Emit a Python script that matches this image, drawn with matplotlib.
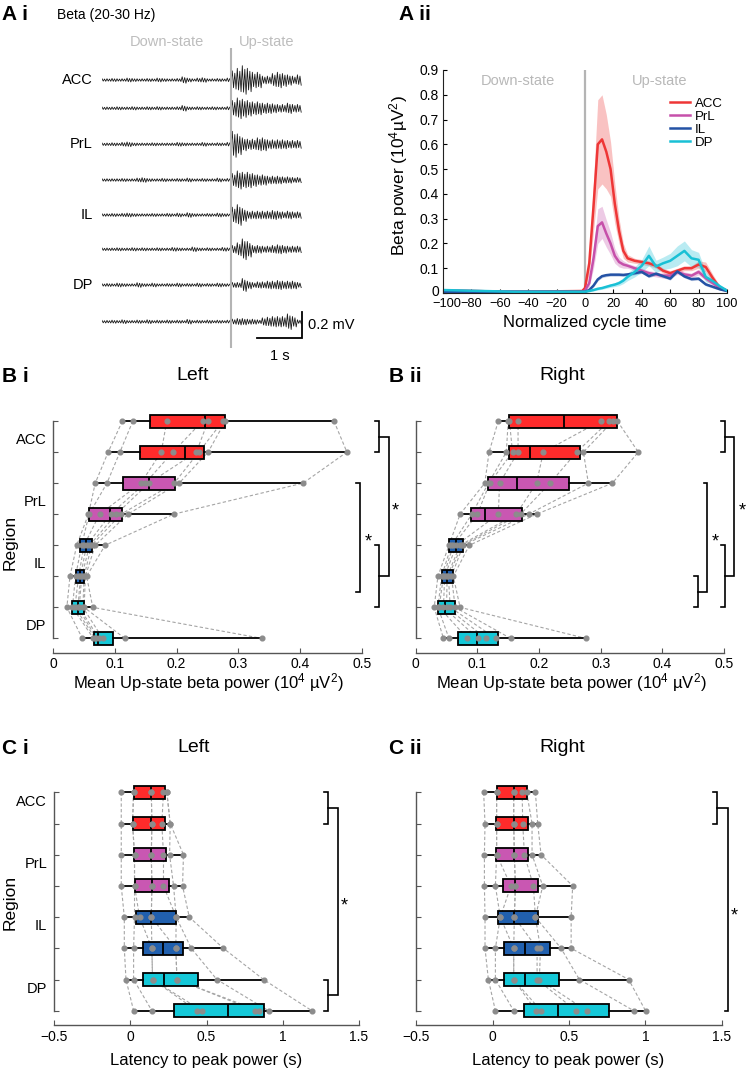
import numpy as np
import matplotlib.pyplot as plt
from matplotlib.transforms import blended_transform_factory, ScaledTranslation
from matplotlib.lines import Line2D

plt.rcParams['font.family'] = ['Liberation Sans', 'DejaVu Sans']
plt.rcParams['mathtext.fontset'] = 'custom'
plt.rcParams['mathtext.rm'] = 'Liberation Sans'
plt.rcParams['mathtext.it'] = 'Liberation Sans:italic'

# ---------------- data ----------------
# A i: envelope of beta-filtered traces (0.01 mV units), 40 bins of ~0.11 s
trace_labels = ['ACC', '', 'PrL', '', 'IL', '', 'DP', '']
env_acc1 = [1, 1, 1.2, 1, 1, 1.5, 1.2, 1, 1, 1.2, 1, 1.5, 1.2, 1, 1, 1.2, 2.5, 1.5, 1, 1.5, 1.8, 1, 1, 1.2, 1, 1.5,
            7, 9, 11, 9, 6, 6, 3, 3, 5, 6, 5, 4, 3, 4]
env_acc2 = [1, 1, 1, 1.2, 1, 1, 1.3, 1, 1, 1.2, 1, 1.3, 1, 1, 1, 1.2, 2.2, 1.2, 1, 1.2, 1, 1, 1.2, 1, 1, 1.3,
            6, 8, 7, 6, 5, 5, 4, 4, 3.5, 3, 3, 4, 3, 3]
env_prl1 = [1, 1, 1.2, 1, 1.5, 1.8, 1.2, 1, 1, 1, 1.2, 1, 1, 1, 1, 1.5, 1.2, 1, 1, 1, 1.5, 1, 1, 1.2, 1, 1.5,
            10, 8, 5, 4, 4, 5, 5, 3.5, 3.5, 3.5, 3.5, 3, 3, 3]
env_prl2 = [1, 1, 1, 1, 1.2, 1, 1, 1.5, 1.8, 1.2, 1, 1, 1.3, 1, 1, 1.2, 1, 1.5, 1, 1, 1.2, 1, 1, 1.5, 1, 1.2,
            5, 7, 6, 6, 5, 4, 4, 3, 3, 3, 2.5, 2.5, 2, 2]
env_il1 = [1, 1, 1.2, 1, 1.3, 1.5, 1.2, 1, 1, 1, 1.2, 1, 1, 1.3, 1, 1.5, 1, 1.8, 1.2, 1, 1, 1.2, 1, 1.5, 1.2, 1,
           6, 8, 5, 3, 3, 3, 3, 3, 3.5, 3, 2.5, 3, 2.5, 2.5]
env_il2 = [1, 1, 1, 1.2, 1, 1, 1.3, 1, 1.2, 1, 1, 1.2, 1, 1, 1.5, 1.2, 1, 1, 1.8, 1.2, 1, 1.2, 1, 1, 1.5, 1.2,
           3, 5, 8, 6, 3, 3, 2.5, 2.5, 3, 3.5, 3, 2.5, 2.5, 2.5]
env_dp1 = [1, 1.2, 1, 1.5, 1.2, 1, 1, 1.8, 1.2, 1, 1.5, 1, 1, 1.2, 1, 1.5, 1, 1.2, 1, 1.5, 1, 1.2, 1, 1.5, 1.2, 1,
           2, 2, 5, 3, 2, 2.5, 2.5, 3, 3, 3.5, 3, 3, 3, 2]
env_dp2 = [1, 1, 1.2, 1, 1.5, 1, 1, 1.3, 1, 1.5, 1, 1.2, 1, 1.3, 1, 1.2, 1, 1.8, 1, 1.2, 1, 1.3, 1, 1.2, 1, 1.2,
           2, 2.5, 2.5, 2, 2, 1.5, 3, 3.5, 4, 4, 4, 6, 4, 1.5]
trace_envs = [env_acc1, env_acc2, env_prl1, env_prl2, env_il1, env_il2, env_dp1, env_dp2]

# A ii: mean beta power over normalized cycle time
cycle_x = [-100, -50, -2, 0, 3, 6, 9, 12, 15, 18, 21, 24, 27, 30, 35, 40, 45, 50, 55, 60, 65, 70, 75, 80, 85, 90, 95, 100]
acc_mean = [0.01, 0.005, 0.008, 0.02, 0.12, 0.35, 0.6, 0.62, 0.57, 0.5, 0.36, 0.25, 0.17, 0.14, 0.13, 0.125, 0.12,
            0.11, 0.09, 0.08, 0.09, 0.1, 0.1, 0.115, 0.105, 0.06, 0.02, 0.01]
acc_sem = [0.005, 0.003, 0.003, 0.005, 0.04, 0.1, 0.18, 0.18, 0.15, 0.11, 0.08, 0.05, 0.03, 0.015, 0.01, 0.01, 0.01,
           0.01, 0.01, 0.01, 0.01, 0.01, 0.01, 0.015, 0.02, 0.015, 0.008, 0.004]
prl_mean = [0.01, 0.005, 0.005, 0.01, 0.04, 0.14, 0.27, 0.285, 0.24, 0.2, 0.15, 0.125, 0.115, 0.11, 0.1, 0.09, 0.08,
            0.075, 0.07, 0.07, 0.085, 0.075, 0.07, 0.085, 0.06, 0.04, 0.02, 0.01]
prl_sem = [0.004, 0.003, 0.003, 0.004, 0.015, 0.04, 0.07, 0.065, 0.055, 0.045, 0.03, 0.02, 0.015, 0.01, 0.01, 0.01,
           0.01, 0.01, 0.01, 0.01, 0.01, 0.01, 0.01, 0.012, 0.01, 0.01, 0.005, 0.003]
il_mean = [0.005, 0.005, 0.005, 0.005, 0.012, 0.03, 0.055, 0.068, 0.072, 0.074, 0.074, 0.074, 0.073, 0.075, 0.08,
           0.085, 0.068, 0.078, 0.068, 0.058, 0.087, 0.067, 0.056, 0.058, 0.035, 0.025, 0.015, 0.008]
il_sem = [0.002, 0.002, 0.002, 0.002, 0.004, 0.005, 0.006, 0.006, 0.006, 0.006, 0.006, 0.006, 0.006, 0.006, 0.006,
          0.006, 0.006, 0.006, 0.006, 0.006, 0.006, 0.006, 0.006, 0.006, 0.006, 0.005, 0.004, 0.003]
dp_mean = [0.012, 0.005, 0.005, 0.005, 0.008, 0.012, 0.017, 0.02, 0.025, 0.03, 0.034, 0.04, 0.05, 0.065, 0.085, 0.11,
           0.15, 0.107, 0.12, 0.13, 0.15, 0.17, 0.14, 0.134, 0.065, 0.048, 0.027, 0.01]
dp_sem = [0.003, 0.002, 0.002, 0.002, 0.003, 0.004, 0.005, 0.005, 0.006, 0.007, 0.008, 0.01, 0.012, 0.015, 0.02,
          0.025, 0.04, 0.025, 0.025, 0.03, 0.04, 0.04, 0.035, 0.03, 0.02, 0.01, 0.006, 0.004]

region_names = ['ACC', 'PrL', 'IL', 'DP']

# B i: mean up-state beta power, left hemisphere (rows top->bottom, 8 animals each)
bl_points = [[0.112, 0.129, 0.184, 0.242, 0.251, 0.275, 0.279, 0.455],
             [0.089, 0.108, 0.175, 0.194, 0.232, 0.236, 0.251, 0.476],
             [0.068, 0.087, 0.142, 0.149, 0.155, 0.196, 0.204, 0.405],
             [0.057, 0.058, 0.075, 0.093, 0.102, 0.110, 0.121, 0.195],
             [0.038, 0.046, 0.050, 0.054, 0.059, 0.062, 0.068, 0.084],
             [0.027, 0.036, 0.041, 0.044, 0.046, 0.050, 0.052, 0.054],
             [0.022, 0.031, 0.035, 0.040, 0.042, 0.048, 0.050, 0.064],
             [0.047, 0.065, 0.068, 0.070, 0.074, 0.080, 0.116, 0.338]]
bl_q1 = [0.156, 0.141, 0.113, 0.058, 0.044, 0.036, 0.030, 0.066]
bl_med = [0.246, 0.213, 0.155, 0.092, 0.0525, 0.044, 0.0395, 0.073]
bl_q3 = [0.279, 0.245, 0.197, 0.112, 0.062, 0.050, 0.049, 0.097]

# B ii: right hemisphere
br_points = [[0.134, 0.150, 0.152, 0.166, 0.300, 0.314, 0.320, 0.327],
             [0.119, 0.147, 0.157, 0.166, 0.207, 0.261, 0.272, 0.361],
             [0.112, 0.118, 0.120, 0.136, 0.196, 0.218, 0.280, 0.319],
             [0.072, 0.091, 0.100, 0.134, 0.163, 0.170, 0.183, 0.196],
             [0.054, 0.058, 0.061, 0.066, 0.072, 0.075, 0.077, 0.087],
             [0.036, 0.042, 0.045, 0.047, 0.051, 0.053, 0.058, 0.061],
             [0.030, 0.036, 0.038, 0.045, 0.050, 0.056, 0.064, 0.072],
             [0.045, 0.054, 0.084, 0.101, 0.114, 0.130, 0.154, 0.276]]
br_q1 = [0.152, 0.152, 0.118, 0.089, 0.054, 0.042, 0.036, 0.069]
br_med = [0.240, 0.186, 0.165, 0.112, 0.066, 0.051, 0.047, 0.100]
br_q3 = [0.327, 0.267, 0.249, 0.173, 0.076, 0.061, 0.064, 0.134]

# C i: latency to peak power (s), left
cl_points = [[-0.059, 0.022, 0.022, 0.138, 0.138, 0.218, 0.240, 0.240],
             [-0.059, 0.015, 0.015, 0.142, 0.142, 0.207, 0.262, 0.262],
             [-0.059, 0.028, 0.028, 0.138, 0.138, 0.218, 0.258, 0.349],
             [-0.059, 0.028, 0.028, 0.142, 0.142, 0.218, 0.284, 0.343],
             [-0.039, 0.028, 0.061, 0.138, 0.138, 0.301, 0.301, 0.387],
             [-0.039, 0.022, 0.142, 0.142, 0.299, 0.299, 0.400, 0.611],
             [-0.028, 0.022, 0.146, 0.146, 0.306, 0.306, 0.568, 0.874],
             [0.022, 0.142, 0.437, 0.470, 0.819, 0.841, 0.907, 1.191]]
cl_q1 = [0.022, 0.016, 0.022, 0.028, 0.039, 0.081, 0.083, 0.288]
cl_med = [0.138, 0.138, 0.138, 0.142, 0.138, 0.218, 0.223, 0.644]
cl_q3 = [0.229, 0.227, 0.236, 0.251, 0.301, 0.349, 0.441, 0.874]

# C ii: right
cr_points = [[-0.059, 0.026, 0.026, 0.138, 0.138, 0.193, 0.223, 0.280],
             [-0.050, 0.026, 0.026, 0.138, 0.138, 0.197, 0.258, 0.295],
             [-0.054, 0.026, 0.026, 0.142, 0.142, 0.208, 0.258, 0.317],
             [-0.054, 0.018, 0.120, 0.149, 0.149, 0.267, 0.328, 0.524],
             [-0.050, 0.050, 0.050, 0.142, 0.142, 0.280, 0.280, 0.514],
             [-0.050, 0.018, 0.138, 0.138, 0.291, 0.313, 0.448, 0.514],
             [-0.028, 0.018, 0.138, 0.138, 0.291, 0.306, 0.568, 0.891],
             [0.018, 0.138, 0.284, 0.317, 0.546, 0.616, 0.924, 1.001]]
cr_q1 = [0.026, 0.020, 0.020, 0.066, 0.033, 0.077, 0.077, 0.208]
cr_med = [0.138, 0.138, 0.142, 0.149, 0.142, 0.212, 0.212, 0.426]
cr_q3 = [0.223, 0.229, 0.232, 0.299, 0.295, 0.378, 0.437, 0.765]

# ---------------- styles ----------------
line_colors = ['#ee3636', '#c650aa', '#2452a5', '#19c0d5']
box_colors = ['#ff2b2b', '#ff2b2b', '#c957b2', '#c957b2', '#2160ae', '#2160ae', '#14c8d8', '#14c8d8']
spine_c = '#555555'

W, H = 748, 1072
fig = plt.figure(figsize=(W / 100, H / 100), dpi=100)


def px_axes(x0, y0, x1, y1):
    return fig.add_axes([x0 / W, 1 - y1 / H, (x1 - x0) / W, (y1 - y0) / H])


def ftext(x, y, s, **kw):
    fig.text(x / W, 1 - y / H, s, **kw)


def nudge(label, dx_px, dy_px):
    label.set_transform(label.get_transform() +
                        ScaledTranslation(dx_px / 100, dy_px / 100, fig.dpi_scale_trans))


# panel letters
for x, y, s in [(2, 15, 'A i'), (399, 15, 'A ii'), (2, 376, 'B i'), (389, 376, 'B ii'),
                (2, 748, 'C i'), (389, 748, 'C ii')]:
    ftext(x, y, s, fontsize=15, fontweight='bold', va='center', ha='left')

# ---------------- A i ----------------
ax = px_axes(102, 48, 302.3, 348)
px_per_mv = 130.0
ax.set_xlim(0, 200 / 45)
ax.set_ylim(-300 / px_per_mv, 0)
ax.axis('off')
trace_rows_px = [80, 108.3, 144.3, 180, 215, 249.3, 285, 321.7]
carrier = [1, -0.85, 0.75, -1]
for env, ypx, lab in zip(trace_envs, trace_rows_px, trace_labels):
    base = -(ypx - 48) / px_per_mv
    amp = np.repeat(np.array(env) * 0.01, len(carrier)) * np.tile(carrier, len(env))
    t = np.linspace(0, 4.42, amp.size)
    ax.plot(t, base + amp, color='#1a1a1a', lw=0.6)
    if lab:
        ax.text(-0.2, base, lab, ha='right', va='center', fontsize=10.5, clip_on=False)
ax.axvline((231 - 102) / 45, color='#b4b4b4', lw=1.5)
ax.text((166.5 - 102) / 45, 6 / px_per_mv, 'Down-state', color='#bdbdbd', fontsize=10.5,
        ha='center', va='center', clip_on=False)
ax.text((266 - 102) / 45, 6 / px_per_mv, 'Up-state', color='#bdbdbd', fontsize=10.5,
        ha='center', va='center', clip_on=False)
ybar = -(338.3 - 48) / px_per_mv
ax.plot([200 / 45 - 1, 200 / 45, 200 / 45], [ybar, ybar, ybar + 0.2], color='black', lw=1.3,
        clip_on=False, solid_joinstyle='miter')
ax.text(200 / 45 + 0.12, ybar + 0.1, '0.2 mV', fontsize=10.5, ha='left', va='center', clip_on=False)
ax.text(200 / 45 - 0.5, ybar - 0.14, '1 s', fontsize=10.5, ha='center', va='center', clip_on=False)
ftext(57, 15, 'Beta (20-30 Hz)', fontsize=10, va='center', ha='left')

# ---------------- A ii ----------------
ax = px_axes(443, 70, 727, 293)
ax.axvline(0, color='#b4b4b4', lw=1.6, zorder=1)
handles = []
series = [(acc_mean, acc_sem), (prl_mean, prl_sem), (il_mean, il_sem), (dp_mean, dp_sem)]
for (m, s), c, name in zip(series, line_colors, region_names):
    m = np.array(m)
    s = np.array(s)
    ax.fill_between(cycle_x, m - s, m + s, color=c, alpha=0.3, lw=0)
    h, = ax.plot(cycle_x, m, color=c, lw=1.8, label=name)
    handles.append(h)
ax.set_xlim(-100, 100)
ax.set_ylim(0, 0.9)
ax.set_xticks(range(-100, 101, 20))
ax.set_yticks(np.arange(0, 0.91, 0.1))
ax.set_yticklabels(['0'] + ['%.1f' % v for v in np.arange(0.1, 0.91, 0.1)])
for sp in ['top', 'right']:
    ax.spines[sp].set_visible(False)
for sp in ['left', 'bottom']:
    ax.spines[sp].set_color('#222222')
ax.tick_params(direction='in', length=3, labelsize=10, pad=3)
ax.tick_params(axis='x', labelsize=9.2, pad=3.5)
nudge(ax.get_xticklabels()[0], 4, 0)
nudge(ax.get_yticklabels()[0], 0, 2)
ax.text(-47.5, 0.857, 'Down-state', color='#b8b8b8', fontsize=10.5, ha='center', va='center')
ax.text(52.7, 0.857, 'Up-state', color='#b8b8b8', fontsize=10.5, ha='center', va='center')
ax.legend(handles=handles, loc='upper left', bbox_to_anchor=(0.8, 0.875), frameon=False, fontsize=9.5,
          handlelength=1.5, handletextpad=0.35, labelspacing=0.05, borderpad=0, borderaxespad=0)
ftext(585, 323, 'Normalized cycle time', fontsize=12, ha='center', va='center')
ftext(399, 176, 'Beta power (10$^4$µV$^2$)', fontsize=12.5, ha='center', va='center', rotation=90)


# ---------------- box panels ----------------
def box_panel(ax, pts, q1, med, q3, xlim, xticks, xticklabels, ylabel_rows):
    rows = np.arange(1, 9)
    arr = np.array(pts)
    for j in range(arr.shape[1]):
        ax.plot(arr[:, j], rows, ls=(0, (3, 2)), color='#a5a5a5', lw=0.8, zorder=1)
    stats = [dict(med=m, q1=a, q3=b, whislo=min(p), whishi=max(p), fliers=[])
             for p, a, m, b in zip(pts, q1, med, q3)]
    bp = ax.bxp(stats, positions=rows, widths=0.42, orientation='horizontal', patch_artist=True,
                showcaps=False, showfliers=False,
                boxprops=dict(edgecolor='black', linewidth=1.3),
                whiskerprops=dict(color='black', linewidth=1.3),
                medianprops=dict(color='black', linewidth=1.3))
    for patch, c in zip(bp['boxes'], box_colors):
        patch.set_facecolor(c)
    for r, p in zip(rows, pts):
        ax.plot(p, [r] * len(p), 'o', ms=3.4, color='#8c8c8c', mec='#8c8c8c', zorder=4)
    ax.set_xlim(xlim)
    ax.set_ylim(8.47, 0.5)
    for sp in ['top', 'right']:
        ax.spines[sp].set_visible(False)
    for sp in ['left', 'bottom']:
        ax.spines[sp].set_color(spine_c)
        ax.spines[sp].set_linewidth(1.0)
    ax.spines['left'].set_bounds(1, 8)
    ax.set_yticks(rows)
    ax.set_yticklabels([''] * 8)
    if ylabel_rows is not None:
        ax.set_yticks(ylabel_rows, minor=True)
        ax.set_yticklabels(region_names, minor=True)
    ax.tick_params(axis='y', which='minor', length=0, pad=5, labelsize=10.5)
    ax.set_xticks(xticks)
    ax.set_xticklabels(xticklabels)
    ax.tick_params(axis='both', which='major', direction='in', length=3.5, color=spine_c,
                   labelsize=10, pad=3)


def bracket(ax, x, r0, r1, t0=0.012, t1=0.012):
    tr = blended_transform_factory(ax.transAxes, ax.transData)
    ax.add_line(Line2D([x - t0, x, x, x - t1], [r0, r0, r1, r1], color='black', lw=1.2,
                       transform=tr, clip_on=False, solid_joinstyle='miter'))


def star(ax, x, r):
    tr = blended_transform_factory(ax.transAxes, ax.transData)
    ax.text(x, r + 0.15, '*', transform=tr, fontsize=13, ha='center', va='center', clip_on=False)


B_ticks = [0, 0.1, 0.2, 0.3, 0.4, 0.5]
B_labels = ['0', '0.1', '0.2', '0.3', '0.4', '0.5']
C_ticks = [-0.5, 0, 0.5, 1, 1.5]
C_labels = ['\u22120.5', '0', '0.5', '1', '1.5']

ax_bl = px_axes(53.3, 405.5, 361.7, 653)
box_panel(ax_bl, bl_points, bl_q1, bl_med, bl_q3, (0, 0.5), B_ticks, B_labels, [1.55, 3.55, 5.55, 7.55])
bracket(ax_bl, 1.056, 1, 2)
bracket(ax_bl, 1.056, 5, 7)
bracket(ax_bl, 1.088, 1.5, 6, 0.032, 0.032)
star(ax_bl, 1.108, 3.75)
bracket(ax_bl, 0.994, 3, 6.5)
star(ax_bl, 1.02, 4.75)

ax_br = px_axes(415.7, 405.5, 724, 653)
box_panel(ax_br, br_points, br_q1, br_med, br_q3, (0, 0.5), B_ticks, B_labels, None)
bracket(ax_br, 1.003, 1, 2)
bracket(ax_br, 1.003, 5, 7)
bracket(ax_br, 1.032, 1.5, 6, 0.029, 0.029)
star(ax_br, 1.058, 3.75)
bracket(ax_br, 0.916, 6, 7)
bracket(ax_br, 0.946, 3, 6.5, 0.012, 0.030)
star(ax_br, 0.97, 4.75)

ax_cl = px_axes(54, 776.7, 359, 1025.4)
box_panel(ax_cl, cl_points, cl_q1, cl_med, cl_q3, (-0.5, 1.5), C_ticks, C_labels, [1.25, 3.25, 5.25, 7.25])
bracket(ax_cl, 0.897, 1, 2)
bracket(ax_cl, 0.897, 7, 8)
bracket(ax_cl, 0.930, 1.5, 7.5, 0.033, 0.033)
star(ax_cl, 0.951, 4.5)

ax_cr = px_axes(416.3, 776.7, 721.7, 1025.4)
box_panel(ax_cr, cr_points, cr_q1, cr_med, cr_q3, (-0.5, 1.5), C_ticks, C_labels, None)
bracket(ax_cr, 0.984, 1, 2)
bracket(ax_cr, 1.022, 1.5, 8, 0.038, 0.012)
star(ax_cr, 1.04, 4.8)

# titles and axis labels
for x, y, s in [(193, 376, 'Left'), (562, 376, 'Right'), (193.5, 748, 'Left'), (562, 748, 'Right')]:
    ftext(x, y, s, fontsize=14, ha='center', va='center')
for x in (208, 571):
    ftext(x, 683, 'Mean Up-state beta power (10$^4$ µV$^2$)', fontsize=12, ha='center', va='center')
for x in (206, 568.5):
    ftext(x, 1060, 'Latency to peak power (s)', fontsize=12, ha='center', va='center')
ftext(10, 542, 'Region', fontsize=12.5, rotation=90, ha='center', va='center')
ftext(10, 902, 'Region', fontsize=12.5, rotation=90, ha='center', va='center')

fig.savefig('out.png', dpi=100)
